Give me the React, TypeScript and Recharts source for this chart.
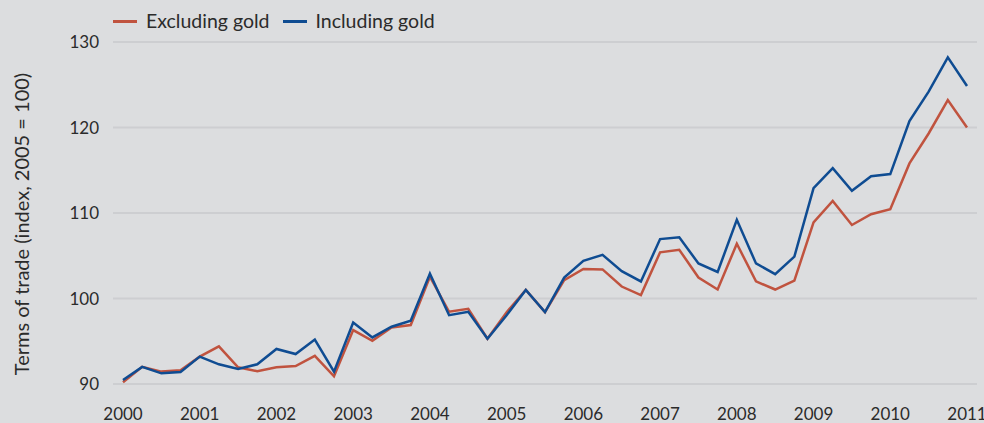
import { CartesianGrid, Line, LineChart, XAxis, YAxis } from "recharts";

// quarterly, 2000 Q1 .. 2011 Q1
const quarters = [
  "2000 Q1", "2000 Q2", "2000 Q3", "2000 Q4",
  "2001 Q1", "2001 Q2", "2001 Q3", "2001 Q4",
  "2002 Q1", "2002 Q2", "2002 Q3", "2002 Q4",
  "2003 Q1", "2003 Q2", "2003 Q3", "2003 Q4",
  "2004 Q1", "2004 Q2", "2004 Q3", "2004 Q4",
  "2005 Q1", "2005 Q2", "2005 Q3", "2005 Q4",
  "2006 Q1", "2006 Q2", "2006 Q3", "2006 Q4",
  "2007 Q1", "2007 Q2", "2007 Q3", "2007 Q4",
  "2008 Q1", "2008 Q2", "2008 Q3", "2008 Q4",
  "2009 Q1", "2009 Q2", "2009 Q3", "2009 Q4",
  "2010 Q1", "2010 Q2", "2010 Q3", "2010 Q4",
  "2011 Q1",
];

const excludingGold = [
  90.2, 92.0, 91.45, 91.6, 93.2, 94.4, 91.95, 91.5,
  91.95, 92.1, 93.3, 90.9, 96.3, 95.05, 96.6, 96.9,
  102.55, 98.45, 98.8, 95.3, 98.4, 101.0, 98.4, 102.15,
  103.45, 103.4, 101.4, 100.4, 105.4, 105.7, 102.45, 101.05,
  106.4, 102.0, 101.05, 102.1, 108.9, 111.4, 108.6, 109.85,
  110.45, 115.8, 119.3, 123.2, 120.0,
];

const includingGold = [
  90.47, 92.0, 91.25, 91.4, 93.2, 92.3, 91.75, 92.3,
  94.1, 93.5, 95.2, 91.45, 97.2, 95.45, 96.7, 97.4,
  102.9, 98.05, 98.45, 95.3, 98.05, 101.0, 98.4, 102.45,
  104.4, 105.1, 103.2, 102.0, 106.95, 107.15, 104.1, 103.1,
  109.2, 104.1, 102.85, 104.9, 112.9, 115.25, 112.6, 114.3,
  114.55, 120.75, 124.2, 128.2, 124.85,
];

const yTicks = [90, 100, 110, 120, 130];

const data = quarters.map((q, i) => ({
  idx: i,
  quarter: q,
  excl: excludingGold[i],
  incl: includingGold[i],
}));

const yearTicks = quarters.map((_, i) => i).filter(i => i % 4 === 0);

const RED = "#c0533f";
const BLUE = "#0f4c92";
const TEXT = "#2b2b2b";
const FONT = "Lato, 'Open Sans', sans-serif";

// simple legend placed above the plot, aligned with its left edge
const TopLegend = () => (
  <div
    style={{
      position: "absolute",
      left: 113,
      top: 8,
      display: "flex",
      alignItems: "center",
      fontFamily: FONT,
      fontSize: 19.5,
      color: TEXT,
      lineHeight: "26px",
    }}
  >
    <span style={{ display: "inline-block", width: 24, height: 3, background: RED, marginRight: 9 }} />
    <span style={{ marginRight: 13 }}>Excluding gold</span>
    <span style={{ display: "inline-block", width: 24, height: 3, background: BLUE, marginRight: 9 }} />
    <span>Including gold</span>
  </div>
);

export default function App() {
  return (
    <div style={{ position: "fixed", left: 0, top: 0, width: 984, height: 423, background: "#dcdddf" }}>
      <TopLegend />
      <LineChart width={984} height={423} data={data} margin={{ top: 42, right: 7, bottom: 9, left: 0 }}>
        <CartesianGrid vertical={false} stroke="#cdced1" strokeWidth={2} />
        <XAxis
          dataKey="idx"
          type="number"
          domain={[0, 44]}
          ticks={yearTicks}
          tickFormatter={(v: number) => quarters[v].slice(0, 4)}
          axisLine={false}
          tickLine={false}
          padding={{ left: 10, right: 10 }}
          interval={0}
          height={30}
          tick={{ fill: TEXT, fontSize: 17, fontFamily: FONT }}
          tickMargin={18}
        />
        <YAxis
          domain={[90, 130]}
          ticks={yTicks}
          width={113}
          axisLine={false}
          tickLine={false}
          tick={{ fill: TEXT, fontSize: 17, fontFamily: FONT }}
          tickMargin={8}
          label={{
            content: () => (
              <text
                x={24}
                y={224}
                transform="rotate(-90 24 224)"
                textAnchor="middle"
                dominantBaseline="middle"
                fill={TEXT}
                fontSize={20}
                fontFamily={FONT}
              >
                Terms of trade (index, 2005 = 100)
              </text>
            ),
          }}
        />
        <Line
          type="linear"
          dataKey="excl"
          name="Excluding gold"
          stroke={RED}
          strokeWidth={2.5}
          dot={false}
          isAnimationActive={false}
        />
        <Line
          type="linear"
          dataKey="incl"
          name="Including gold"
          stroke={BLUE}
          strokeWidth={2.5}
          dot={false}
          isAnimationActive={false}
        />
      </LineChart>
    </div>
  );
}
